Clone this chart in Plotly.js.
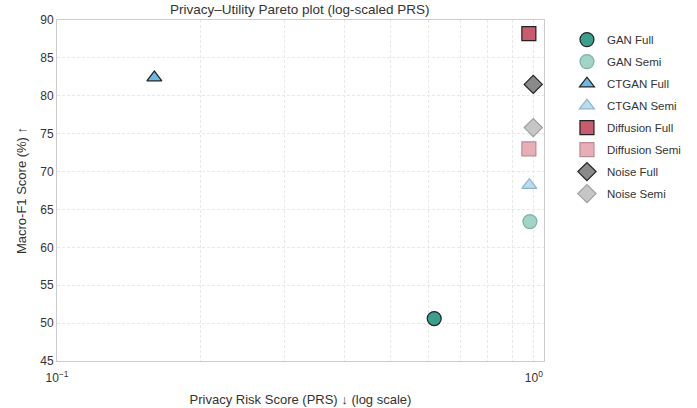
<!DOCTYPE html>
<html><head><meta charset="utf-8">
<script src="https://cdn.plot.ly/plotly-3.0.1.min.js"></script>
<style>body{margin:0;background:#fff}#c{width:697px;height:408px}</style>
</head><body><div id="c"></div>
<script>
const names = ["GAN Full","GAN Semi","CTGAN Full","CTGAN Semi","Diffusion Full","Diffusion Semi","Noise Full","Noise Semi"];
const prs = [0.618, 0.981, 0.160, 0.978, 0.976, 0.976, 0.997, 0.997];
const f1 = [50.6, 63.4, 82.4, 68.2, 88.2, 73.0, 81.5, 75.8];
const symbols = ["circle","circle","triangle-up","triangle-up","square","square","diamond","diamond"];
const fills = ["#3a9f8d","#9fd4c6","#6cb9e1","#b7ddf0","#c95b6e","#e6aeb7","#8a8a8a","#c6c6c6"];
const edges = ["#222222","#7fb0a5","#222222","#8fb4c7","#222222","#bb8d95","#222222","#a0a0a0"];
const sizes = [14,14,13,13,14,14,14,14];
const xTickVals = [0.1,0.2,0.3,0.4,0.5,0.6,0.7,0.8,0.9,1];
const xTickText = ["10<sup>−1</sup>","","","","","","","","","10<sup>0</sup>"];

const traces = names.map((n,i)=>({
  type:"scatter", mode:"markers", name:n, legendgroup:n,
  x:[prs[i]], y:[f1[i]],
  marker:{symbol:symbols[i], size:sizes[i], color:fills[i], line:{color:edges[i], width:1.2}}
}));
const font = {family:"Liberation Sans, Arial, sans-serif", color:"#333"};
Plotly.newPlot("c", traces, {
  width:697, height:408,
  margin:{l:57, r:152, t:20, b:47},
  paper_bgcolor:"#fff", plot_bgcolor:"#fff",
  font:font,
  title:{text:"Privacy–Utility Pareto plot (log-scaled PRS)", font:{size:13.5,color:"#333"}, x:0.43, xanchor:"center", y:0.99, yanchor:"top"},
  xaxis:{type:"log", range:[-1, Math.log10(1.05)], tickvals:xTickVals, ticktext:xTickText,
    showgrid:true, gridcolor:"#e8e8e8", griddash:"3px,2px", gridwidth:1,
    showline:true, mirror:true, linecolor:"#cccccc", linewidth:1, zeroline:false, ticks:"",
    ticklabelstandoff:6,
    tickfont:{size:12,color:"#333"},
    title:{text:"Privacy Risk Score (PRS) ↓ (log scale)", font:{size:13,color:"#333"}, standoff:10}},
  yaxis:{range:[45,90], dtick:5, showgrid:true, gridcolor:"#e8e8e8", griddash:"3px,2px", gridwidth:1,
    showline:true, mirror:true, linecolor:"#cccccc", linewidth:1, zeroline:false, ticks:"",
    tickfont:{size:12,color:"#333"},
    title:{text:"Macro-F1 Score (%) ↑", font:{size:13,color:"#333"}, standoff:10}},
  legend:{x:1.045, xanchor:"left", y:0.985, yanchor:"top", font:{size:11.5,color:"#333"}, tracegroupgap:3, bgcolor:"rgba(0,0,0,0)"},
  showlegend:true
}, {displayModeBar:false, staticPlot:true});
</script></body></html>
